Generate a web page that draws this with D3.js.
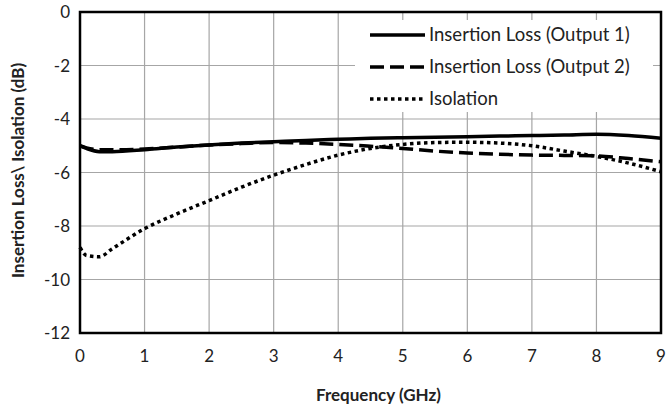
<!DOCTYPE html>
<html>
<head>
<meta charset="utf-8">
<title>Insertion Loss / Isolation</title>
<script src="https://d3js.org/d3.v7.min.js"></script>
<style>
  body { margin: 0; background: #fff; }
  svg text { font-family: Lato, "Open Sans", sans-serif; fill: #222; }
</style>
</head>
<body>
<div id="chart"></div>
<script>
// frequency points (GHz)
var freq = [0, 0.1, 0.3, 0.5, 1, 1.5, 2, 2.5, 3, 3.5, 4, 4.5, 5, 5.5, 6, 6.5, 7, 7.5, 8, 8.5, 9];
// values (dB)
var output1 = [-5.0, -5.1, -5.22, -5.22, -5.15, -5.05, -4.97, -4.9, -4.85, -4.8, -4.76, -4.72, -4.7, -4.68, -4.66, -4.64, -4.62, -4.6, -4.57, -4.62, -4.72];
var output2 = [-5.0, -5.08, -5.15, -5.15, -5.12, -5.05, -4.97, -4.92, -4.88, -4.9, -4.95, -5.02, -5.1, -5.2, -5.27, -5.32, -5.35, -5.36, -5.38, -5.48, -5.6];
var isolation = [-8.8, -9.1, -9.15, -8.85, -8.1, -7.55, -7.05, -6.55, -6.1, -5.7, -5.35, -5.1, -4.95, -4.88, -4.87, -4.9, -5.0, -5.2, -5.4, -5.65, -5.97];
var xTicks = [0, 1, 2, 3, 4, 5, 6, 7, 8, 9];
var yTicks = [0, -2, -4, -6, -8, -10, -12];
var seriesNames = ["Insertion Loss (Output 1)", "Insertion Loss (Output 2)", "Isolation"];

var W = 667, H = 413;
var m = {left: 80, right: 6, top: 12, bottom: 80};

var svg = d3.select("#chart").append("svg")
  .attr("width", W).attr("height", H);

var x = d3.scaleLinear().domain([0, 9]).range([m.left, W - m.right]);
var y = d3.scaleLinear().domain([-12, 0]).range([H - m.bottom, m.top]);

// grid
svg.append("g").selectAll("line.v").data(xTicks).enter().append("line")
  .attr("x1", d => x(d)).attr("x2", d => x(d))
  .attr("y1", y(0)).attr("y2", y(-12))
  .attr("stroke", "#a6a6a6").attr("stroke-width", 1.2);
svg.append("g").selectAll("line.h").data(yTicks).enter().append("line")
  .attr("x1", x(0)).attr("x2", x(9))
  .attr("y1", d => y(d)).attr("y2", d => y(d))
  .attr("stroke", "#a6a6a6").attr("stroke-width", 1.2);

// tick labels
svg.append("g").selectAll("text").data(xTicks).enter().append("text")
  .attr("x", d => x(d)).attr("y", y(-12) + 29)
  .attr("text-anchor", "middle").attr("font-size", 17)
  .text(d => d);
svg.append("g").selectAll("text").data(yTicks).enter().append("text")
  .attr("x", x(0) - 10).attr("y", d => y(d) + 6)
  .attr("text-anchor", "end").attr("font-size", 17)
  .text(d => d);

// axis titles
svg.append("text")
  .attr("x", (x(0) + x(9)) / 2 + 8).attr("y", 401)
  .attr("text-anchor", "middle").attr("font-size", 17).attr("font-weight", "bold")
  .text("Frequency (GHz)");
svg.append("text")
  .attr("transform", "translate(24," + (y(-6) - 2) + ") rotate(-90)")
  .attr("text-anchor", "middle").attr("font-size", 17).attr("font-weight", "bold")
  .text("Insertion Loss\\ Isolation (dB)");

// lines
var styles = [
  {data: output1, dash: null},
  {data: output2, dash: "14,6"},
  {data: isolation, dash: "3.5,3.5"}
];
var line = d3.line()
  .x(d => x(d[0])).y(d => y(d[1]))
  .curve(d3.curveMonotoneX);

styles.forEach(function(s) {
  svg.append("path")
    .datum(freq.map((f, i) => [f, s.data[i]]))
    .attr("fill", "none").attr("stroke", "#000")
    .attr("stroke-width", 3.5)
    .attr("stroke-dasharray", s.dash)
    .attr("d", line);
});

// plot border
svg.append("rect")
  .attr("x", x(0)).attr("y", y(0))
  .attr("width", x(9) - x(0)).attr("height", y(-12) - y(0))
  .attr("fill", "none").attr("stroke", "#000").attr("stroke-width", 2.5);

// legend
var lg = svg.append("g");
lg.append("rect")
  .attr("x", 355).attr("y", 20).attr("width", 298).attr("height", 92)
  .attr("fill", "#fff");
seriesNames.forEach(function(name, i) {
  var ly = 35 + i * 32;
  lg.append("line")
    .attr("x1", 370).attr("x2", 425).attr("y1", ly).attr("y2", ly)
    .attr("stroke", "#000").attr("stroke-width", 3.5)
    .attr("stroke-dasharray", styles[i].dash);
  lg.append("text")
    .attr("x", 429).attr("y", ly + 6)
    .attr("font-size", 18.5)
    .text(name);
});
</script>
</body>
</html>
